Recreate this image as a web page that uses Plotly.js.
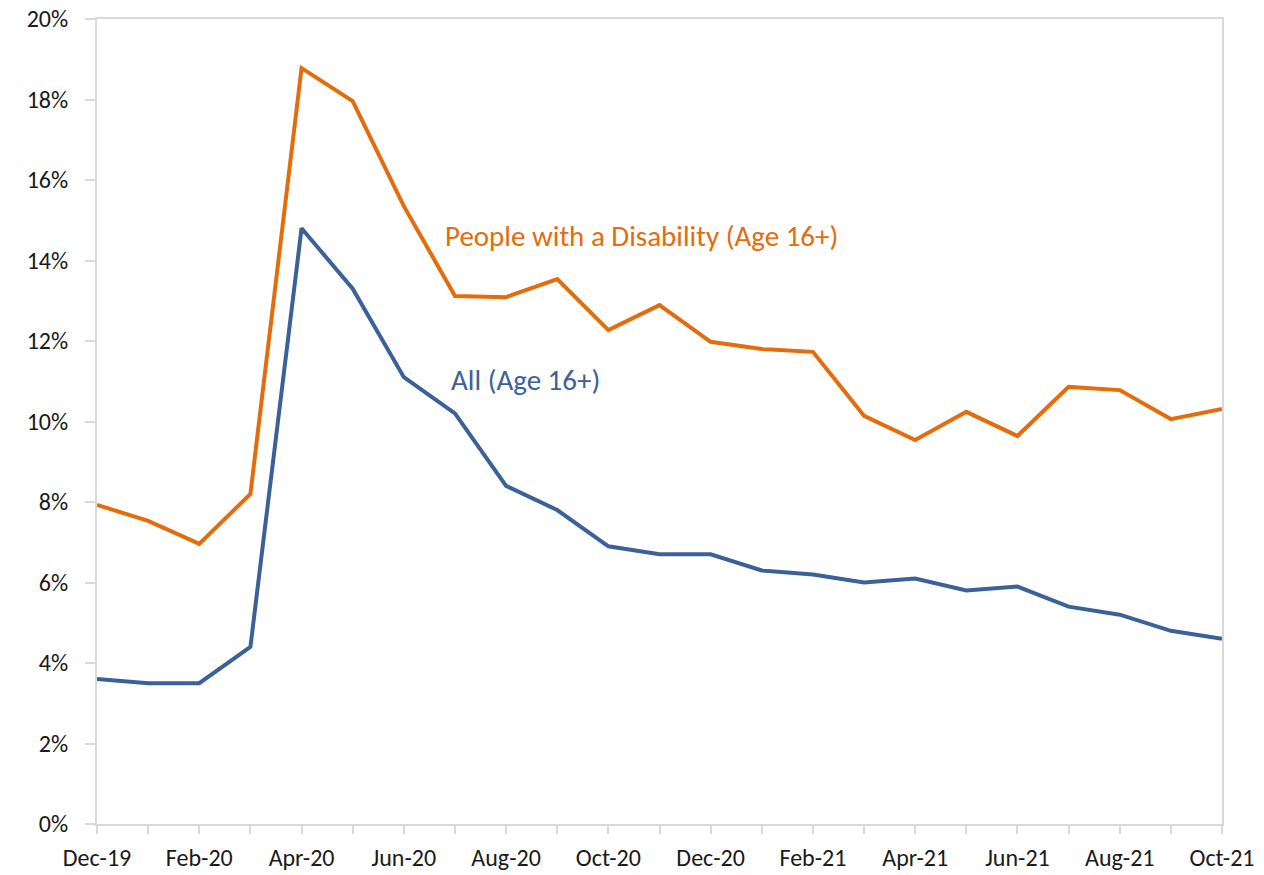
<!DOCTYPE html>
<html>
<head>
<meta charset="utf-8">
<script src="https://cdn.plot.ly/plotly-3.0.1.min.js"></script>
<style>
  html, body { margin: 0; padding: 0; background: #fff; }
  #chart { width: 1264px; height: 875px; }
</style>
</head>
<body>
<div id="chart"></div>
<script>
// --- Data ---
const months = ['Dec-19', 'Jan-20', 'Feb-20', 'Mar-20', 'Apr-20', 'May-20', 'Jun-20', 'Jul-20',
    'Aug-20', 'Sep-20', 'Oct-20', 'Nov-20', 'Dec-20', 'Jan-21', 'Feb-21', 'Mar-21', 'Apr-21',
    'May-21', 'Jun-21', 'Jul-21', 'Aug-21', 'Sep-21', 'Oct-21'];

const disability = [7.93, 7.53, 6.96, 8.2, 18.78, 17.96, 15.35, 13.12, 13.09, 13.54, 12.27, 12.89,
    11.98, 11.8, 11.73, 10.14, 9.54, 10.24, 9.64, 10.86, 10.78, 10.06, 10.31];

const allAges = [3.6, 3.5, 3.5, 4.4, 14.8, 13.3, 11.1, 10.2, 8.4, 7.8, 6.9, 6.7,
    6.7, 6.3, 6.2, 6.0, 6.1, 5.8, 5.9, 5.4, 5.2, 4.8, 4.6];

const tickLabels = months.map((m, i) => (i % 2 === 0 ? m : ''));

const orange = '#E46C0A';
const blue = '#3B6298';
const font = 'Carlito, Calibri, Lato, "Open Sans", sans-serif';

const traces = [
    { x: months, y: disability, mode: 'lines', name: 'People with a Disability (Age 16+)',
      line: { color: orange, width: 4 } },
    { x: months, y: allAges, mode: 'lines', name: 'All (Age 16+)',
      line: { color: blue, width: 4 } }
];

const layout = {
    width: 1264,
    height: 875,
    margin: { l: 97, r: 42, t: 19, b: 51 },
    paper_bgcolor: '#fff',
    plot_bgcolor: '#fff',
    showlegend: false,
    font: { family: font, size: 24, color: '#1a1a1a' },
    xaxis: {
        type: 'category',
        range: [0, months.length - 1],
        tickmode: 'array',
        tickvals: months,
        ticktext: tickLabels,
        ticks: 'outside',
        ticklen: 8,
        tickcolor: '#d9d9d9',
        tickwidth: 2,
        ticklabelstandoff: 3,
        showgrid: false,
        showline: true,
        linecolor: '#d9d9d9',
        linewidth: 2,
        mirror: true,
        zeroline: false
    },
    yaxis: {
        range: [0, 20],
        dtick: 2,
        ticksuffix: '%',
        ticks: 'outside',
        ticklen: 10,
        tickcolor: '#d9d9d9',
        tickwidth: 2,
        ticklabelstandoff: 12,
        showgrid: false,
        showline: true,
        linecolor: '#d9d9d9',
        linewidth: 2,
        mirror: true,
        zeroline: false
    },
    annotations: [
        { x: 6.76, y: 14.62, xref: 'x', yref: 'y', xanchor: 'left', yanchor: 'middle', showarrow: false,
          text: 'People with a Disability (Age 16+)', font: { family: font, size: 29, color: orange } },
        { x: 6.88, y: 11.02, xref: 'x', yref: 'y', xanchor: 'left', yanchor: 'middle', showarrow: false,
          text: 'All (Age 16+)', font: { family: font, size: 29, color: blue } }
    ]
};

Plotly.newPlot('chart', traces, layout, { displayModeBar: false });
</script>
</body>
</html>
